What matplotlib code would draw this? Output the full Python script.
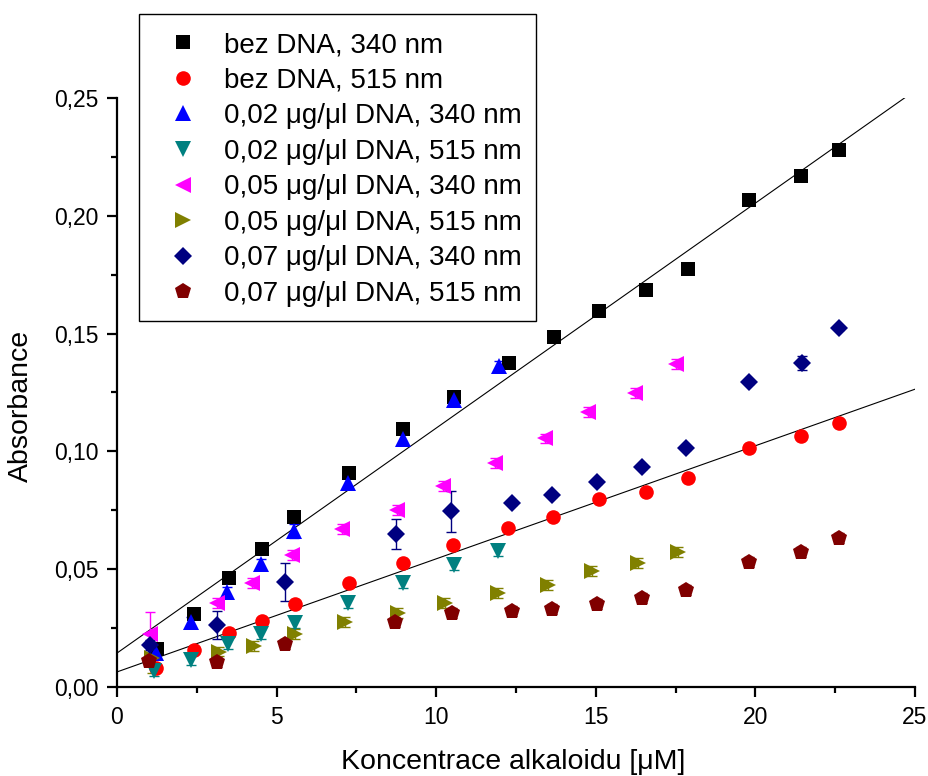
import matplotlib
matplotlib.use("Agg")
import matplotlib.pyplot as plt
from matplotlib.ticker import MultipleLocator, FuncFormatter
from matplotlib.patches import Rectangle
import numpy as np

plt.rcParams['font.family'] = ['Liberation Sans', 'DejaVu Sans']

# bez DNA, 340 nm
x_bez340 = [1.25, 2.41, 3.51, 4.55, 5.55, 7.27, 8.97, 10.56, 12.29, 13.70, 15.11, 16.58, 17.90, 19.81, 21.44, 22.63]
y_bez340 = [0.0161, 0.0310, 0.0463, 0.0586, 0.0722, 0.0908, 0.1095, 0.1230, 0.1375, 0.1486, 0.1596, 0.1685, 0.1774, 0.2067, 0.2168, 0.2280]

# bez DNA, 515 nm
x_bez515 = [1.22, 2.41, 3.51, 4.55, 5.58, 7.27, 8.97, 10.53, 12.26, 13.67, 15.11, 16.58, 17.90, 19.81, 21.44, 22.63]
y_bez515 = [0.0081, 0.0157, 0.0229, 0.0280, 0.0352, 0.0441, 0.0526, 0.0603, 0.0675, 0.0722, 0.0798, 0.0828, 0.0887, 0.1014, 0.1065, 0.1120]

# 0,02 ug/ul DNA
x_002_340 = [1.22, 2.32, 3.45, 4.51, 5.55, 7.24, 8.97, 10.56, 11.97]
y_002_340 = [0.0144, 0.0276, 0.0403, 0.0522, 0.0662, 0.0866, 0.1053, 0.1218, 0.1362]
e_002_340 = [0.002, 0.002, 0.002, 0.002, 0.003, 0.002, 0.002, 0.002, 0.002]
x_002_515 = [1.16, 2.32, 3.48, 4.51, 5.58, 7.24, 8.97, 10.56, 11.94]
y_002_515 = [0.0068, 0.0115, 0.0183, 0.0225, 0.0272, 0.0357, 0.0441, 0.0518, 0.0577]
e_002_515 = [0.002, 0.002, 0.002, 0.002, 0.002, 0.002, 0.002, 0.002, 0.002]

# 0,05 ug/ul DNA
x_005_340 = [1.03, 3.13, 4.23, 5.49, 7.05, 8.78, 10.22, 11.85, 13.42, 14.76, 16.24, 17.52]
y_005_340 = [0.0225, 0.0357, 0.0441, 0.0560, 0.0670, 0.0751, 0.0853, 0.0951, 0.1055, 0.1167, 0.1248, 0.1371]
e_005_340 = [0.0093, 0.002, 0.002, 0.002, 0.002, 0.002, 0.002, 0.002, 0.002, 0.002, 0.002, 0.002]
x_005_515 = [1.10, 3.20, 4.30, 5.58, 7.15, 8.81, 10.28, 11.94, 13.51, 14.89, 16.33, 17.59]
y_005_515 = [0.0125, 0.0150, 0.0174, 0.0225, 0.0276, 0.0314, 0.0357, 0.0399, 0.0433, 0.0492, 0.0526, 0.0573]
e_005_515 = [0.0065, 0.002, 0.002, 0.002, 0.002, 0.002, 0.002, 0.002, 0.002, 0.002, 0.002, 0.002]

# 0,07 ug/ul DNA
x_007_340 = [1.03, 3.13, 5.27, 8.75, 10.47, 12.38, 13.64, 15.05, 16.46, 17.84, 19.81, 21.47, 22.63]
y_007_340 = [0.0178, 0.0263, 0.0446, 0.0649, 0.0745, 0.0781, 0.0815, 0.0870, 0.0934, 0.1014, 0.1295, 0.1375, 0.1524]
e_007_340 = [0.002, 0.0058, 0.0080, 0.0064, 0.0087, 0.001, 0.001, 0.001, 0.001, 0.001, 0.001, 0.003, 0.001]
x_007_515 = [1.00, 3.13, 5.27, 8.72, 10.50, 12.38, 13.64, 15.05, 16.46, 17.84, 19.81, 21.44, 22.63]
y_007_515 = [0.0110, 0.0106, 0.0183, 0.0276, 0.0314, 0.0323, 0.0331, 0.0352, 0.0378, 0.0412, 0.0531, 0.0573, 0.0632]
e_007_515 = [0.002, 0.002, 0.002, 0.002, 0.002, 0.002, 0.002, 0.002, 0.002, 0.002, 0.002, 0.002, 0.002]

# linear fits (intercept, slope)
fit_340 = (0.0144, 0.00955)
fit_515 = (0.0064, 0.0048)

series = [
    (x_bez340, y_bez340, None, 's', 'black', 9.4, 'bez DNA, 340 nm'),
    (x_bez515, y_bez515, None, 'o', 'red', 10.5, 'bez DNA, 515 nm'),
    (x_002_340, y_002_340, e_002_340, '^', 'blue', 11.5, '0,02 μg/μl DNA, 340 nm'),
    (x_002_515, y_002_515, e_002_515, 'v', '#008080', 11.5, '0,02 μg/μl DNA, 515 nm'),
    (x_005_340, y_005_340, e_005_340, '<', 'magenta', 11.5, '0,05 μg/μl DNA, 340 nm'),
    (x_005_515, y_005_515, e_005_515, '>', '#808000', 11.5, '0,05 μg/μl DNA, 515 nm'),
    (x_007_340, y_007_340, e_007_340, 'D', '#000080', 9.0, '0,07 μg/μl DNA, 340 nm'),
    (x_007_515, y_007_515, e_007_515, 'p', '#800000', 12.0, '0,07 μg/μl DNA, 515 nm'),
]

W, H = 929, 776
fig = plt.figure(figsize=(W/100, H/100), dpi=100)
ax = fig.add_axes([117/W, 89/H, 798/W, 589/H])

xf = np.array([0, 25])
for b, m in (fit_340, fit_515):
    ax.plot(xf, b + m*xf, color='black', lw=0.8, zorder=1)

handles = []
for x, y, e, mk, c, ms, lab in series:
    if e is not None:
        ax.errorbar(x, y, yerr=e, fmt='none', ecolor=c, elinewidth=1.0, capsize=3.5, capthick=1.0, zorder=2)
    h, = ax.plot(x, y, linestyle='none', marker=mk, color=c, markersize=ms,
                 markeredgewidth=0, label=lab, zorder=3)
    handles.append(h)

ax.set_xlim(0, 25)
ax.set_ylim(0, 0.25)
ax.spines['top'].set_visible(False)
ax.spines['right'].set_visible(False)
ax.spines['left'].set_linewidth(1.6)
ax.spines['bottom'].set_linewidth(1.6)
ax.xaxis.set_major_locator(MultipleLocator(5))
ax.xaxis.set_minor_locator(MultipleLocator(2.5))
ax.yaxis.set_major_locator(MultipleLocator(0.05))
ax.yaxis.set_minor_locator(MultipleLocator(0.025))
ax.yaxis.set_major_formatter(FuncFormatter(lambda v, p: f"{v:.2f}".replace('.', ',')))
ax.xaxis.set_major_formatter(FuncFormatter(lambda v, p: f"{v:g}"))
ax.tick_params(which='major', direction='out', length=7, width=1.6, labelsize=16.5, pad=6.5)
ax.tick_params(which='minor', direction='out', length=4, width=1.6)

ax.set_xlabel('Koncentrace alkaloidu [μM]', fontsize=20.5)
ax.set_ylabel('Absorbance', fontsize=20.5)
ax.xaxis.set_label_coords(0.497, (687 - 749) / 589)
ax.yaxis.set_label_coords((34 - 117) / 798, (687 - 406) / 589)

# legend box drawn separately, entries placed inside it
fig.patches.append(Rectangle((139/W, 1 - 321/H), 397/W, 307/H, transform=fig.transFigure,
                             facecolor='white', edgecolor='black', lw=1.0, zorder=5))
leg = fig.legend(handles=handles, loc='upper left', bbox_to_anchor=(169/W, 1 - 32/H),
                 fontsize=20, frameon=False, handlelength=1.0, handletextpad=0.98,
                 labelspacing=0.345, borderpad=0, borderaxespad=0)
leg.set_zorder(6)

fig.savefig('out.png', dpi=100)
